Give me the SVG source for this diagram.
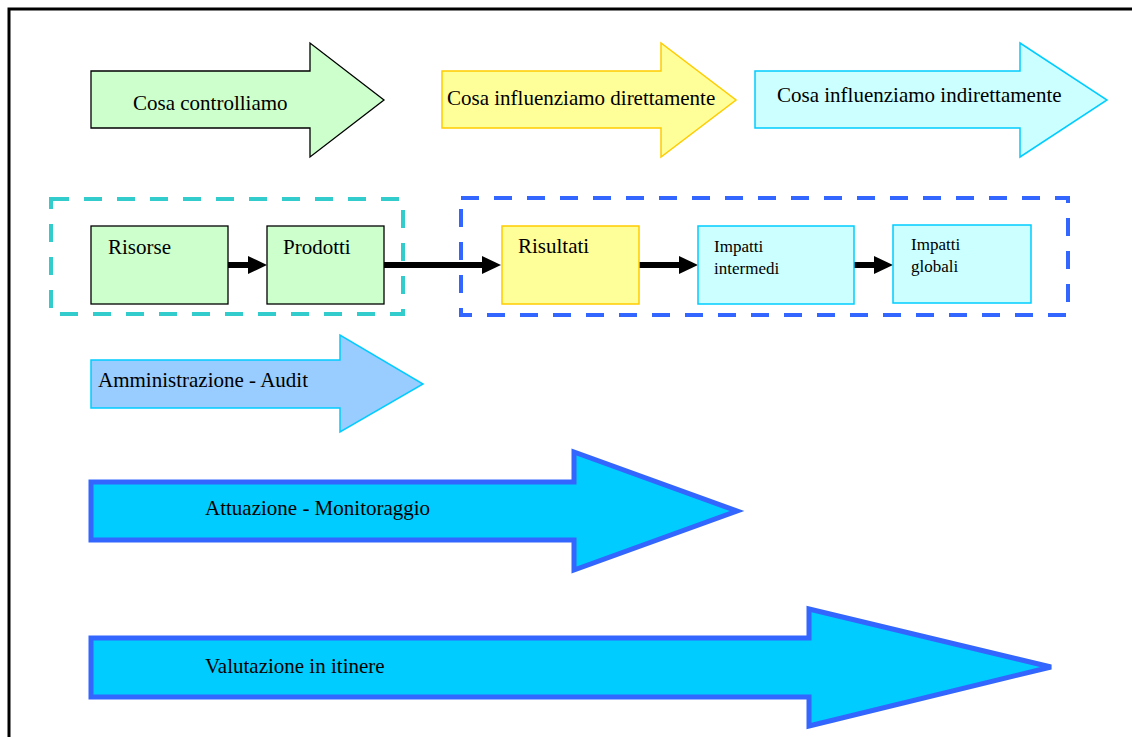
<svg xmlns="http://www.w3.org/2000/svg" width="1132" height="737" viewBox="0 0 1132 737">
<style>
text{font-family:"Liberation Serif","Times New Roman",serif;font-size:21px;fill:#000}
.sm{font-size:17px}
.green{fill:#CCFFCC;stroke:#000;stroke-width:1.3}
.yellow{fill:#FFFF99;stroke:#FFCC00;stroke-width:1.5}
.cyan{fill:#CCFFFF;stroke:#00CCFF;stroke-width:1.5}
.light{fill:#99CCFF;stroke:#00CCFF;stroke-width:1.5}
.big{fill:#00CCFF;stroke:#3366FF;stroke-width:5;stroke-linejoin:miter}
.dash{fill:none;stroke-width:4;stroke-dasharray:18 15}
.conn{stroke:#000;stroke-width:6;fill:none}
</style>
<defs>
<marker id="ah" markerUnits="userSpaceOnUse" markerWidth="19" markerHeight="18" refX="4" refY="9" orient="auto">
<path d="M0,0 L19,9 L0,18 z" fill="#000"/>
</marker>
</defs>
<rect x="9" y="9" width="1140" height="740" fill="#fff" stroke="#000" stroke-width="3"/>

<g id="arrow-controlliamo">
<polygon class="green" points="91,71 310,71 310,43 384,100 310,157 310,128 91,128"/>
<text x="133" y="110">Cosa controlliamo</text>
</g>
<g id="arrow-direttamente">
<polygon class="yellow" points="442,71 661,71 661,43 736,100 661,157 661,128 442,128"/>
<text x="447" y="105">Cosa influenziamo direttamente</text>
</g>
<g id="arrow-indirettamente">
<polygon class="cyan" points="755,71 1020,71 1020,43 1107,100 1020,157 1020,128 755,128"/>
<text x="777" y="102">Cosa influenziamo indirettamente</text>
</g>

<g id="group-controllo">
<rect class="dash" x="51" y="199" width="352" height="115" stroke="#33CCCC"/>
</g>
<g id="group-influenza">
<rect class="dash" x="461" y="198" width="607" height="117" stroke="#3366FF"/>
</g>

<g id="connectors">
<line class="conn" x1="228" y1="265" x2="252" y2="265" marker-end="url(#ah)"/>
<line class="conn" x1="384" y1="265" x2="486" y2="265" marker-end="url(#ah)"/>
<line class="conn" x1="639" y1="265" x2="683" y2="265" marker-end="url(#ah)"/>
<line class="conn" x1="854" y1="265" x2="878" y2="265" marker-end="url(#ah)"/>
</g>

<g id="risorse">
<rect class="green" x="91" y="226" width="137" height="78"/>
<text x="108" y="254">Risorse</text>
</g>
<g id="prodotti">
<rect class="green" x="267" y="226" width="117" height="78"/>
<text x="283" y="254">Prodotti</text>
</g>
<g id="risultati">
<rect class="yellow" x="502" y="226" width="137" height="78"/>
<text x="518" y="253">Risultati</text>
</g>
<g id="impatti-intermedi">
<rect class="cyan" x="698" y="226" width="156" height="78"/>
<text class="sm" x="714" y="252">Impatti</text>
<text class="sm" x="714" y="274">intermedi</text>
</g>
<g id="impatti-globali">
<rect class="cyan" x="893" y="225" width="138" height="78"/>
<text class="sm" x="911" y="250">Impatti</text>
<text class="sm" x="911" y="272">globali</text>
</g>

<g id="arrow-audit">
<polygon class="light" points="91,360 340,360 340,335 423,384 340,432 340,408 91,408"/>
<text x="98" y="387">Amministrazione - Audit</text>
</g>
<g id="arrow-monitoraggio">
<polygon class="big" points="91,482 574,482 574,452 737,511 574,570 574,540 91,540"/>
<text x="205" y="515">Attuazione - Monitoraggio</text>
</g>
<g id="arrow-valutazione">
<polygon class="big" points="91,638 809,638 809,609 1051,667 809,726 809,697 91,697"/>
<text x="205" y="673">Valutazione in itinere</text>
</g>
</svg>
